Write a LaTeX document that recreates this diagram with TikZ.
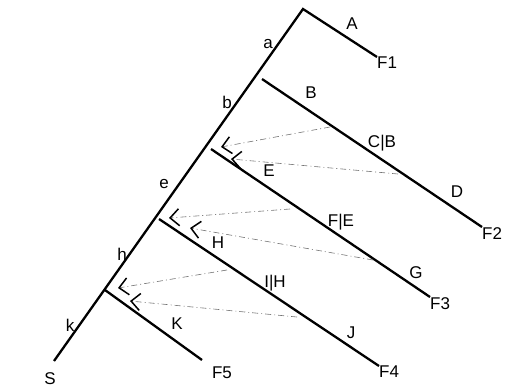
\documentclass[tikz,border=0pt]{standalone}
\usepackage{fontspec}
\setmainfont{Liberation Sans}
\usetikzlibrary{arrows.meta}

\begin{document}
\begin{tikzpicture}[x=1pt, y=-1pt,
      branch/.style={line width=2.3pt},
      cue/.style={black!55, line width=0.6pt, dash pattern=on 6pt off 3pt on 1pt off 3pt,
        -{Straight Barb[length=9pt, width=17pt, line width=1.5pt, color=black]}},
      lbl/.style={font=\fontsize{17}{20}\selectfont, inner sep=0pt},
      tip/.style={lbl, anchor=north west}
    ]
      \useasboundingbox (0,0) rectangle (513,389);

      \coordinate (root) at (54,361);
      \coordinate (top) at (303,9);
      \coordinate (bB) at (262,79);
      \coordinate (bE) at (211,149);
      \coordinate (bH) at (159,219);
      \coordinate (bK) at (105,290);
      \coordinate (eK) at (202,360);

      \node[tip] (F1) at (377,57) {F1};
      \node[tip] (F2) at (482,227) {F2};
      \node[tip] (F3) at (430,297) {F3};
      \node[tip] (F4) at (379,366) {F4};
      \node[lbl] (F5) at (222,373) {F5};

      \draw[branch] (root) -- (top) -- (F1.north west);
      \draw[branch] (bB) -- (F2.north west);
      \draw[branch] (bE) -- (F3.north west);
      \draw[branch] (bH) -- (F4.north west);
      \draw[branch] (bK) -- (eK);

      \coordinate (sE1) at (330,127);
      \coordinate (tE1) at (221,147);
      \coordinate (sE2) at (398,174);
      \coordinate (tE2) at (231,159);
      \coordinate (sH1) at (290,209);
      \coordinate (tH1) at (169,218);
      \coordinate (sH2) at (373,260);
      \coordinate (tH2) at (190,228);
      \coordinate (sK1) at (227,270);
      \coordinate (tK1) at (118,288);
      \coordinate (sK2) at (297,317);
      \coordinate (tK2) at (130,301);

      \draw[cue] (sE1) -- (tE1);
      \draw[cue] (sE2) -- (tE2);
      \draw[cue] (sH1) -- (tH1);
      \draw[cue] (sH2) -- (tH2);
      \draw[cue] (sK1) -- (tK1);
      \draw[cue] (sK2) -- (tK2);

      \node[lbl] (lA) at (352,24) {A};
      \node[lbl] (la) at (268,44) {a};
      \node[lbl] (lb) at (227,102) {b};
      \node[lbl] (lB) at (311,93) {B};
      \node[lbl] (lCB) at (382,143) {C|B};
      \node[lbl] (lD) at (457,192) {D};
      \node[lbl] (lE) at (269,171) {E};
      \node[lbl] (le) at (164,184) {e};
      \node[lbl] (lFE) at (341,222) {F|E};
      \node[lbl] (lH) at (218,243) {H};
      \node[lbl] (lG) at (416,273) {G};
      \node[lbl] (lh) at (122,254) {h};
      \node[lbl] (lIH) at (275,283) {I|H};
      \node[lbl] (lJ) at (351,333) {J};
      \node[lbl] (lk) at (70,325) {k};
      \node[lbl] (lK) at (177,324) {K};
      \node[lbl] (lS) at (50,379) {S};
    \end{tikzpicture}
\end{document}
